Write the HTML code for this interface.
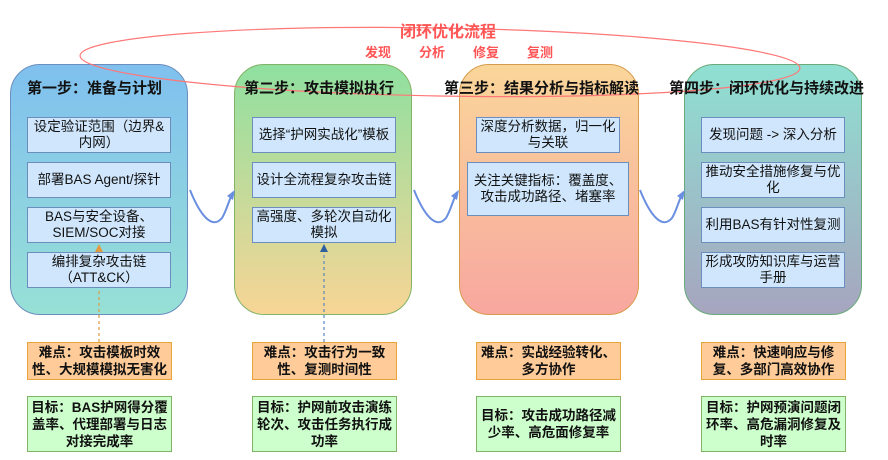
<!DOCTYPE html>
<html><head><meta charset="utf-8"><style>
body{margin:0;width:888px;height:460px;background:#fff;position:relative;overflow:hidden;font-family:"Liberation Sans","Noto Sans CJK SC",sans-serif;}
.col{position:absolute;top:64px;height:251px;width:178px;border-radius:30px;box-sizing:border-box;}
.t{position:absolute;font-weight:bold;font-size:15px;color:#111;white-space:nowrap;top:77px;}
.b{position:absolute;box-sizing:border-box;background:#cfe6fc;border:1.5px solid #6c8ebf;display:flex;align-items:center;justify-content:center;text-align:center;font-size:13.5px;line-height:16px;color:#111;padding:0 2px;}
.d{position:absolute;box-sizing:border-box;background:#ffcc99;border:1.5px solid #e8a33a;display:flex;align-items:center;justify-content:center;text-align:center;font-size:13.5px;font-weight:bold;line-height:17px;color:#111;width:145px;height:38px;top:342px;padding:0 3px;}
.g{position:absolute;box-sizing:border-box;background:#ccffcc;border:1.5px solid #82b366;display:flex;align-items:center;justify-content:center;text-align:center;font-size:13.5px;font-weight:bold;line-height:17px;color:#111;width:145px;height:56px;top:396px;padding:0 3px;}
.r{position:absolute;color:#f55;font-size:13px;font-weight:bold;top:42px;}
</style></head><body>
<div class="col" style="left:10px;background:linear-gradient(#7fc0ef,#97e0d6);border:1.5px solid #6c8ebf;"></div>
<div class="col" style="left:234px;background:linear-gradient(#8fe0a0,#f7d595);border:1.5px solid #82b366;"></div>
<div class="col" style="left:459px;width:180px;background:linear-gradient(#fad69a,#f8a79f);border:1.5px solid #d79b4a;"></div>
<div class="col" style="left:684px;background:linear-gradient(#8fe0d2,#a6a5bf);border:1.5px solid #6aaa7a;"></div>

<svg style="position:absolute;left:0;top:0" width="888" height="460">
<ellipse cx="440" cy="62" rx="360" ry="34" fill="none" stroke="#f77" stroke-width="1.2" transform="rotate(1 440 62)"/>
<path d="M190 190 C200 215 212 230 222 218 C226 212 229 200 233 192" fill="none" stroke="#6b8fe0" stroke-width="2"/>
<path d="M414 190 C424 215 436 230 446 218 C450 212 453 200 457 192" fill="none" stroke="#6b8fe0" stroke-width="2"/>
<path d="M640 190 C650 215 662 230 672 218 C676 212 679 200 683 192" fill="none" stroke="#6b8fe0" stroke-width="2"/>
<polygon points="235,190 227,196 233,200" fill="#6b8fe0"/>
<polygon points="459,190 451,196 457,200" fill="#6b8fe0"/>
<polygon points="685,190 677,196 683,200" fill="#6b8fe0"/>
<line x1="99" y1="342" x2="99" y2="252" stroke="#e09a40" stroke-width="1.2" stroke-dasharray="3,3"/>
<polygon points="99,244 95,252 103,252" fill="#e09a40"/>
<line x1="324" y1="342" x2="324" y2="252" stroke="#5a85c0" stroke-width="1.2" stroke-dasharray="3,3"/>
<polygon points="324,244 320,252 328,252" fill="#2d5fa0"/>
</svg>

<div style="position:absolute;left:400px;top:18px;color:#f55;font-size:16px;font-weight:bold;">闭环优化流程</div>
<div class="r" style="left:365px">发现</div>
<div class="r" style="left:419px">分析</div>
<div class="r" style="left:473px">修复</div>
<div class="r" style="left:527px">复测</div>

<div class="t" style="left:27px">第一步：准备与计划</div>
<div class="t" style="left:244px">第二步：攻击模拟执行</div>
<div class="t" style="left:444px">第三步：结果分析与指标解读</div>
<div class="t" style="left:669px">第四步：闭环优化与持续改进</div>

<div class="b" style="left:27px;top:117px;width:144px;height:36px">设定验证范围（边界&amp;内网）</div>
<div class="b" style="left:27px;top:162px;width:144px;height:36px">部署BAS Agent/探针</div>
<div class="b" style="left:27px;top:207px;width:144px;height:36px">BAS与安全设备、SIEM/SOC对接</div>
<div class="b" style="left:27px;top:252px;width:144px;height:36px">编排复杂攻击链（ATT&amp;CK）</div>

<div class="b" style="left:252px;top:117px;width:144px;height:36px">选择“护网实战化”模板</div>
<div class="b" style="left:252px;top:162px;width:144px;height:36px">设计全流程复杂攻击链</div>
<div class="b" style="left:252px;top:207px;width:144px;height:36px">高强度、多轮次自动化模拟</div>

<div class="b" style="left:476px;top:117px;width:144px;height:36px">深度分析数据，归一化与关联</div>
<div class="b" style="left:467px;top:162px;width:162px;height:54px">关注关键指标：覆盖度、攻击成功路径、堵塞率</div>

<div class="b" style="left:701px;top:117px;width:144px;height:36px">发现问题 -&gt; 深入分析</div>
<div class="b" style="left:701px;top:162px;width:144px;height:36px">推动安全措施修复与优化</div>
<div class="b" style="left:701px;top:207px;width:144px;height:36px">利用BAS有针对性复测</div>
<div class="b" style="left:701px;top:252px;width:144px;height:36px">形成攻防知识库与运营手册</div>

<div class="d" style="left:27px">难点：攻击模板时效性、大规模模拟无害化</div>
<div class="d" style="left:252px">难点：攻击行为一致性、复测时间性</div>
<div class="d" style="left:476px">难点：实战经验转化、多方协作</div>
<div class="d" style="left:701px">难点：快速响应与修复、多部门高效协作</div>

<div class="g" style="left:27px">目标：BAS护网得分覆盖率、代理部署与日志对接完成率</div>
<div class="g" style="left:252px">目标：护网前攻击演练轮次、攻击任务执行成功率</div>
<div class="g" style="left:476px">目标：攻击成功路径减少率、高危面修复率</div>
<div class="g" style="left:701px">目标：护网预演问题闭环率、高危漏洞修复及时率</div>
</body></html>
